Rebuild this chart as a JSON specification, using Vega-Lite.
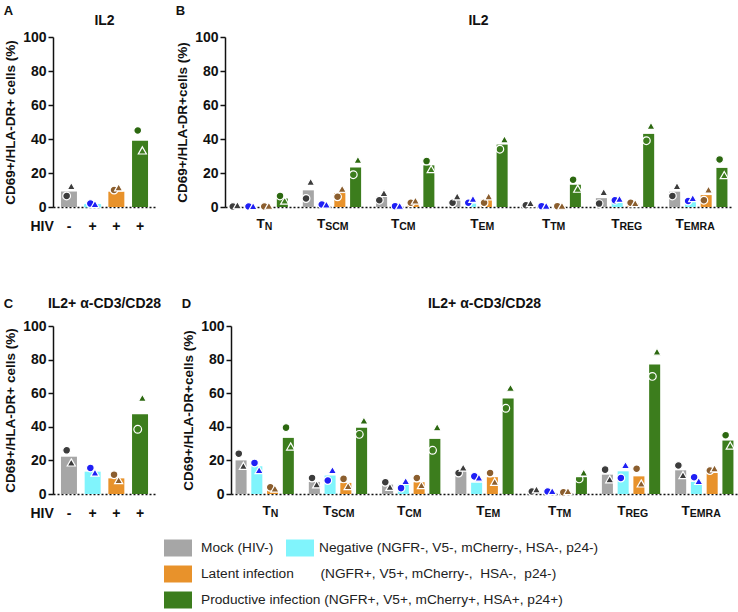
{
  "$schema": "https://vega.github.io/schema/vega-lite/v6.json",
  "padding": {"left": 3, "top": 5, "right": 0, "bottom": 0},
  "datasets": {
    "A": [
      {"group": "Mock", "bar": 9.1, "d1": 6.5, "d2": 12},
      {"group": "Negative", "bar": 1.5, "d1": 2, "d2": 1.5},
      {"group": "Latent", "bar": 9, "d1": 10, "d2": 11.3},
      {"group": "Productive", "bar": 39, "d1": 45, "d2": 33}
    ],
    "C": [
      {"group": "Mock", "bar": 22.2, "d1": 26, "d2": 18.5},
      {"group": "Negative", "bar": 13.3, "d1": 15.5, "d2": 12.5},
      {"group": "Latent", "bar": 9.3, "d1": 11.5, "d2": 8},
      {"group": "Productive", "bar": 47.5, "d1": 38.5, "d2": 57}
    ],
    "B": [
      {"cell": "TN", "group": "Mock", "bar": 0.5, "d1": 0.3, "d2": 0.8},
      {"cell": "TN", "group": "Negative", "bar": 0.3, "d1": 0.3, "d2": 0.3},
      {"cell": "TN", "group": "Latent", "bar": 0.4, "d1": 0.3, "d2": 0.5},
      {"cell": "TN", "group": "Productive", "bar": 5, "d1": 6.5, "d2": 3.5},
      {"cell": "TSCM", "group": "Mock", "bar": 9.8, "d1": 5, "d2": 14.5},
      {"cell": "TSCM", "group": "Negative", "bar": 1.5, "d1": 1.5, "d2": 1.2},
      {"cell": "TSCM", "group": "Latent", "bar": 8.2, "d1": 6, "d2": 10.5},
      {"cell": "TSCM", "group": "Productive", "bar": 23.3, "d1": 19, "d2": 27.5},
      {"cell": "TCM", "group": "Mock", "bar": 6, "d1": 4, "d2": 8},
      {"cell": "TCM", "group": "Negative", "bar": 0.5, "d1": 0.5, "d2": 0.5},
      {"cell": "TCM", "group": "Latent", "bar": 2.8, "d1": 2.5, "d2": 3.5},
      {"cell": "TCM", "group": "Productive", "bar": 24.5, "d1": 27, "d2": 22},
      {"cell": "TEM", "group": "Mock", "bar": 4, "d1": 2.5, "d2": 6},
      {"cell": "TEM", "group": "Negative", "bar": 2, "d1": 2.5, "d2": 4.5},
      {"cell": "TEM", "group": "Latent", "bar": 4.4, "d1": 2.5, "d2": 6},
      {"cell": "TEM", "group": "Productive", "bar": 36.7, "d1": 34, "d2": 39.5},
      {"cell": "TTM", "group": "Mock", "bar": 1, "d1": 1, "d2": 2},
      {"cell": "TTM", "group": "Negative", "bar": 0.5, "d1": 0.5, "d2": 0.5},
      {"cell": "TTM", "group": "Latent", "bar": 0.5, "d1": 0.5, "d2": 0.5},
      {"cell": "TTM", "group": "Productive", "bar": 13.1, "d1": 16, "d2": 10.5},
      {"cell": "TREG", "group": "Mock", "bar": 5.2, "d1": 2, "d2": 8.5},
      {"cell": "TREG", "group": "Negative", "bar": 3, "d1": 4, "d2": 4.5},
      {"cell": "TREG", "group": "Latent", "bar": 2, "d1": 2.5, "d2": 2},
      {"cell": "TREG", "group": "Productive", "bar": 43, "d1": 39, "d2": 47.5},
      {"cell": "TEMRA", "group": "Mock", "bar": 9, "d1": 6.5, "d2": 12},
      {"cell": "TEMRA", "group": "Negative", "bar": 4, "d1": 3.5, "d2": 5},
      {"cell": "TEMRA", "group": "Latent", "bar": 7, "d1": 4, "d2": 10},
      {"cell": "TEMRA", "group": "Productive", "bar": 23, "d1": 28, "d2": 18.5}
    ],
    "D": [
      {"cell": "TN", "group": "Mock", "bar": 20, "d1": 24, "d2": 16.5},
      {"cell": "TN", "group": "Negative", "bar": 16.5, "d1": 18.5, "d2": 14},
      {"cell": "TN", "group": "Latent", "bar": 2.2, "d1": 4, "d2": 3},
      {"cell": "TN", "group": "Productive", "bar": 33.4, "d1": 39.5, "d2": 28},
      {"cell": "TSCM", "group": "Mock", "bar": 7.2, "d1": 9.5, "d2": 5.5},
      {"cell": "TSCM", "group": "Negative", "bar": 11, "d1": 8, "d2": 14},
      {"cell": "TSCM", "group": "Latent", "bar": 6.6, "d1": 9, "d2": 4.5},
      {"cell": "TSCM", "group": "Productive", "bar": 39.4, "d1": 35.5, "d2": 43.5},
      {"cell": "TCM", "group": "Mock", "bar": 5.6, "d1": 7, "d2": 4},
      {"cell": "TCM", "group": "Negative", "bar": 5.6, "d1": 3.5, "d2": 7.5},
      {"cell": "TCM", "group": "Latent", "bar": 7, "d1": 9.5, "d2": 5},
      {"cell": "TCM", "group": "Productive", "bar": 32.8, "d1": 26, "d2": 39.5},
      {"cell": "TEM", "group": "Mock", "bar": 14, "d1": 12.5, "d2": 15.5},
      {"cell": "TEM", "group": "Negative", "bar": 6.7, "d1": 10.5, "d2": 9.5},
      {"cell": "TEM", "group": "Latent", "bar": 10, "d1": 12.5, "d2": 7},
      {"cell": "TEM", "group": "Productive", "bar": 56.9, "d1": 51, "d2": 63},
      {"cell": "TTM", "group": "Mock", "bar": 1.5, "d1": 1.5, "d2": 2.5},
      {"cell": "TTM", "group": "Negative", "bar": 1, "d1": 1.5, "d2": 1.5},
      {"cell": "TTM", "group": "Latent", "bar": 1, "d1": 1, "d2": 1.5},
      {"cell": "TTM", "group": "Productive", "bar": 10, "d1": 9, "d2": 12.5},
      {"cell": "TREG", "group": "Mock", "bar": 11.5, "d1": 14.5, "d2": 8.5},
      {"cell": "TREG", "group": "Negative", "bar": 13.5, "d1": 9.5, "d2": 17},
      {"cell": "TREG", "group": "Latent", "bar": 10.5, "d1": 15, "d2": 6},
      {"cell": "TREG", "group": "Productive", "bar": 77.1, "d1": 70, "d2": 84.5},
      {"cell": "TEMRA", "group": "Mock", "bar": 14.1, "d1": 17, "d2": 11},
      {"cell": "TEMRA", "group": "Negative", "bar": 7.2, "d1": 10, "d2": 7.5},
      {"cell": "TEMRA", "group": "Latent", "bar": 12.5, "d1": 14, "d2": 15},
      {"cell": "TEMRA", "group": "Productive", "bar": 31.8, "d1": 35, "d2": 28.5}
    ]
  },
  "vconcat": [
    {
      "hconcat": [
        {
          "title": {"text": "A", "anchor": "start", "frame": "bounds", "fontSize": 13, "offset": -4},
          "vconcat": [
            {
              "width": 103, "height": 170,
              "title": {"text": "IL2", "anchor": "middle", "frame": "group", "fontSize": 14, "offset": 2},
              "data": {"name": "A"},
              "encoding": {
                "x": {"field": "group", "type": "nominal", "sort": ["Mock", "Negative", "Latent", "Productive"],
                  "scale": {"paddingInner": 0.325, "paddingOuter": 0.336},
                  "axis": {"title": "HIV", "labelExpr": "datum.value === 'Mock' ? '-' : '+'", "labelAngle": 0, "ticks": false, "tickSize": 0, "domainDash": [2, 2], "domainWidth": 1.5, "labelFontSize": 14, "labelBaseline": "alphabetic", "labelPadding": 23, "titleX": -23, "titleY": 23, "titleAlign": "left", "titleBaseline": "alphabetic", "titleFontSize": 14}}
              },
              "layer": [
                {
                  "mark": {"type": "bar"},
                  "encoding": {
                    "y": {"field": "bar", "type": "quantitative", "scale": {"domain": [0, 100], "nice": false},
                      "axis": {"title": "CD69+/HLA-DR+ cells (%)", "values": [0, 20, 40, 60, 80, 100], "labelOverlap": false, "labelFontSize": 14, "titleFontSize": 13.5, "tickSize": 5, "tickWidth": 1.5, "domainWidth": 1.5, "labelPadding": 2, "titlePadding": 5}},
                    "fill": {"field": "group", "type": "nominal",
                      "scale": {"domain": ["Mock", "Negative", "Latent", "Productive"], "range": ["#a6a6a6", "#80f4fc", "#e8922b", "#3c7d1d"]},
                      "legend": {"orient": "none", "legendX": 111, "legendY": 497, "title": null, "values": ["Mock", "Latent", "Productive"],
                        "labelExpr": "datum.value === 'Mock' ? 'Mock (HIV-)' : datum.value === 'Latent' ? 'Latent infection\u00a0\u00a0\u00a0\u00a0\u00a0\u00a0\u00a0(NGFR+, V5+, mCherry-,\u00a0\u00a0HSA-,\u00a0\u00a0p24-)' : 'Productive infection (NGFR+, V5+, mCherry+, HSA+, p24+)'",
                        "symbolType": "M-1,-0.607H1V0.607H-1Z", "symbolSize": 784, "symbolStrokeWidth": 0, "labelFontSize": 13.7, "labelFont": "Liberation Sans", "labelFontWeight": "normal", "labelColor": "#222", "labelOffset": 9, "rowPadding": 3, "labelLimit": 600}},
                    "stroke": {"field": "group", "type": "nominal",
                      "scale": {"domain": ["Negative"], "range": ["#80f4fc"]},
                      "legend": {"orient": "none", "legendX": 233, "legendY": 497, "title": null,
                        "labelExpr": "'Negative (NGFR-, V5-, mCherry-, HSA-, p24-)'",
                        "symbolType": "M-1,-0.607H1V0.607H-1Z", "symbolSize": 784, "symbolFillColor": "#80f4fc", "symbolStrokeWidth": 0, "labelFontSize": 13.7, "labelFont": "Liberation Sans", "labelFontWeight": "normal", "labelColor": "#222", "labelOffset": 5, "labelLimit": 600}}
                  }
                },
                {
                  "mark": {"type": "point", "shape": "M-1.6,0A1,1,0,1,1,0.4,0A1,1,0,1,1,-1.6,0Z", "filled": true, "size": 60, "stroke": "white", "strokeWidth": 1.2, "opacity": 1},
                  "encoding": {
                    "y": {"field": "d1", "type": "quantitative", "scale": {"domain": [0, 100], "nice": false},
                      "axis": {"title": "CD69+/HLA-DR+ cells (%)", "values": [0, 20, 40, 60, 80, 100], "labelOverlap": false, "labelFontSize": 14, "titleFontSize": 13.5, "tickSize": 5, "tickWidth": 1.5, "domainWidth": 1.5, "labelPadding": 2, "titlePadding": 5}},
                    "fill": {"condition": [
                      {"test": "datum.group === 'Productive' && datum.d1 < datum.bar", "value": "transparent"},
                      {"test": "datum.group === 'Mock'", "value": "#3c3c3c"},
                      {"test": "datum.group === 'Negative'", "value": "#1f1ff5"},
                      {"test": "datum.group === 'Latent'", "value": "#8b5e2e"}], "value": "#2c6810"}
                  }
                },
                {
                  "mark": {"type": "point", "shape": "M0.6,-1.05L1.65,0.8L-0.45,0.8Z", "filled": true, "size": 60, "stroke": "white", "strokeWidth": 1.2, "opacity": 1},
                  "encoding": {
                    "y": {"field": "d2", "type": "quantitative", "scale": {"domain": [0, 100], "nice": false},
                      "axis": {"title": "CD69+/HLA-DR+ cells (%)", "values": [0, 20, 40, 60, 80, 100], "labelOverlap": false, "labelFontSize": 14, "titleFontSize": 13.5, "tickSize": 5, "tickWidth": 1.5, "domainWidth": 1.5, "labelPadding": 2, "titlePadding": 5}},
                    "fill": {"condition": [
                      {"test": "datum.group === 'Productive' && datum.d2 < datum.bar", "value": "transparent"},
                      {"test": "datum.group === 'Mock'", "value": "#3c3c3c"},
                      {"test": "datum.group === 'Negative'", "value": "#1f1ff5"},
                      {"test": "datum.group === 'Latent'", "value": "#8b5e2e"}], "value": "#2c6810"}
                  }
                }
              ]
            }
          ]
        },
        {
          "title": {"text": "B", "anchor": "start", "frame": "bounds", "fontSize": 13, "offset": -4},
          "vconcat": [
            {
              "width": 507, "height": 170,
              "title": {"text": "IL2", "anchor": "middle", "frame": "group", "fontSize": 14, "offset": 2},
              "data": {"name": "B"},
              "layer": [
                {
                  "mark": {"type": "bar"},
                  "encoding": {
                    "x": {"field": "cell", "type": "nominal", "sort": ["TN", "TSCM", "TCM", "TEM", "TTM", "TREG", "TEMRA"],
                      "scale": {"paddingInner": 0.14, "paddingOuter": 0.03},
                      "axis": {"title": null, "orient": "bottom", "labelExpr": "'T'", "labelAngle": 0, "ticks": false, "tickSize": 0, "domainDash": [2, 2], "domainWidth": 1.5, "labelFontSize": 13.5, "labelAlign": "right", "labelBaseline": "alphabetic", "labelPadding": 20,
                        "labelOffset": {"condition": [
                          {"test": "datum.value === 'TN'", "value": 6},
                          {"test": "datum.value === 'TSCM'", "value": -6.7},
                          {"test": "datum.value === 'TCM'", "value": -6},
                          {"test": "datum.value === 'TTM'", "value": -1.6},
                          {"test": "datum.value === 'TREG'", "value": -5.5},
                          {"test": "datum.value === 'TEMRA'", "value": -14.5}], "value": 0}}},
                    "xOffset": {"field": "group", "type": "nominal", "sort": ["Mock", "Negative", "Latent", "Productive"], "scale": {"paddingInner": 0.3, "paddingOuter": 0.15}},
                    "y": {"field": "bar", "type": "quantitative", "scale": {"domain": [0, 100], "nice": false},
                      "axis": {"title": "CD69+/HLA-DR+cells (%)", "values": [0, 20, 40, 60, 80, 100], "labelOverlap": false, "labelFontSize": 14, "titleFontSize": 13.5, "tickSize": 5, "tickWidth": 1.5, "domainWidth": 1.5, "labelPadding": 2, "titlePadding": 5}},
                    "fill": {"field": "group", "type": "nominal"}
                  }
                },
                {
                  "mark": {"type": "point", "shape": "M-1.6,0A1,1,0,1,1,0.4,0A1,1,0,1,1,-1.6,0Z", "filled": true, "size": 60, "stroke": "white", "strokeWidth": 1.2, "opacity": 1},
                  "encoding": {
                    "x": {"field": "cell", "type": "nominal", "sort": ["TN", "TSCM", "TCM", "TEM", "TTM", "TREG", "TEMRA"],
                      "axis": {"title": null, "orient": "bottom", "labelExpr": "slice(datum.value, 1)", "labelAngle": 0, "ticks": false, "tickSize": 0, "domain": false, "labelFontSize": 10.5, "labelAlign": "left", "labelBaseline": "alphabetic", "labelPadding": 22,
                        "labelOffset": {"condition": [
                          {"test": "datum.value === 'TN'", "value": 6},
                          {"test": "datum.value === 'TSCM'", "value": -6.7},
                          {"test": "datum.value === 'TCM'", "value": -6},
                          {"test": "datum.value === 'TTM'", "value": -1.6},
                          {"test": "datum.value === 'TREG'", "value": -5.5},
                          {"test": "datum.value === 'TEMRA'", "value": -14.5}], "value": 0}}},
                    "xOffset": {"field": "group", "type": "nominal", "sort": ["Mock", "Negative", "Latent", "Productive"]},
                    "y": {"field": "d1", "type": "quantitative", "scale": {"domain": [0, 100], "nice": false},
                      "axis": {"title": "CD69+/HLA-DR+cells (%)", "values": [0, 20, 40, 60, 80, 100], "labelOverlap": false, "labelFontSize": 14, "titleFontSize": 13.5, "tickSize": 5, "tickWidth": 1.5, "domainWidth": 1.5, "labelPadding": 2, "titlePadding": 5}},
                    "fill": {"condition": [
                      {"test": "datum.group === 'Productive' && datum.d1 < datum.bar", "value": "transparent"},
                      {"test": "datum.group === 'Mock'", "value": "#3c3c3c"},
                      {"test": "datum.group === 'Negative'", "value": "#1f1ff5"},
                      {"test": "datum.group === 'Latent'", "value": "#8b5e2e"}], "value": "#2c6810"}
                  }
                },
                {
                  "mark": {"type": "point", "shape": "M0.6,-1.05L1.65,0.8L-0.45,0.8Z", "filled": true, "size": 60, "stroke": "white", "strokeWidth": 1.2, "opacity": 1},
                  "encoding": {
                    "x": {"field": "cell", "type": "nominal", "sort": ["TN", "TSCM", "TCM", "TEM", "TTM", "TREG", "TEMRA"], "axis": null},
                    "xOffset": {"field": "group", "type": "nominal", "sort": ["Mock", "Negative", "Latent", "Productive"]},
                    "y": {"field": "d2", "type": "quantitative", "scale": {"domain": [0, 100], "nice": false},
                      "axis": {"title": "CD69+/HLA-DR+cells (%)", "values": [0, 20, 40, 60, 80, 100], "labelOverlap": false, "labelFontSize": 14, "titleFontSize": 13.5, "tickSize": 5, "tickWidth": 1.5, "domainWidth": 1.5, "labelPadding": 2, "titlePadding": 5}},
                    "fill": {"condition": [
                      {"test": "datum.group === 'Productive' && datum.d2 < datum.bar", "value": "transparent"},
                      {"test": "datum.group === 'Mock'", "value": "#3c3c3c"},
                      {"test": "datum.group === 'Negative'", "value": "#1f1ff5"},
                      {"test": "datum.group === 'Latent'", "value": "#8b5e2e"}], "value": "#2c6810"}
                  }
                }
              ],
              "resolve": {"axis": {"x": "independent"}}
            }
          ]
        }
      ],
      "spacing": 19
    },
    {
      "hconcat": [
        {
          "title": {"text": "C", "anchor": "start", "frame": "bounds", "fontSize": 13, "offset": -14},
          "vconcat": [
            {
              "width": 103, "height": 168,
              "title": {"text": "IL2+ α-CD3/CD28", "anchor": "middle", "frame": "group", "fontSize": 14, "offset": 8},
              "data": {"name": "C"},
              "encoding": {
                "x": {"field": "group", "type": "nominal", "sort": ["Mock", "Negative", "Latent", "Productive"],
                  "scale": {"paddingInner": 0.325, "paddingOuter": 0.336},
                  "axis": {"title": "HIV", "labelExpr": "datum.value === 'Mock' ? '-' : '+'", "labelAngle": 0, "ticks": false, "tickSize": 0, "domainDash": [2, 2], "domainWidth": 1.5, "labelFontSize": 14, "labelBaseline": "alphabetic", "labelPadding": 23, "titleX": -23, "titleY": 23, "titleAlign": "left", "titleBaseline": "alphabetic", "titleFontSize": 14}}
              },
              "layer": [
                {
                  "mark": {"type": "bar"},
                  "encoding": {
                    "y": {"field": "bar", "type": "quantitative", "scale": {"domain": [0, 100], "nice": false},
                      "axis": {"title": "CD69+/HLA-DR+ cells (%)", "values": [0, 20, 40, 60, 80, 100], "labelOverlap": false, "labelFontSize": 14, "titleFontSize": 13.5, "tickSize": 5, "tickWidth": 1.5, "domainWidth": 1.5, "labelPadding": 2, "titlePadding": 5}},
                    "fill": {"field": "group", "type": "nominal"}
                  }
                },
                {
                  "mark": {"type": "point", "shape": "M-1.6,0A1,1,0,1,1,0.4,0A1,1,0,1,1,-1.6,0Z", "filled": true, "size": 60, "stroke": "white", "strokeWidth": 1.2, "opacity": 1},
                  "encoding": {
                    "y": {"field": "d1", "type": "quantitative", "scale": {"domain": [0, 100], "nice": false},
                      "axis": {"title": "CD69+/HLA-DR+ cells (%)", "values": [0, 20, 40, 60, 80, 100], "labelOverlap": false, "labelFontSize": 14, "titleFontSize": 13.5, "tickSize": 5, "tickWidth": 1.5, "domainWidth": 1.5, "labelPadding": 2, "titlePadding": 5}},
                    "fill": {"condition": [
                      {"test": "datum.group === 'Productive' && datum.d1 < datum.bar", "value": "transparent"},
                      {"test": "datum.group === 'Mock'", "value": "#3c3c3c"},
                      {"test": "datum.group === 'Negative'", "value": "#1f1ff5"},
                      {"test": "datum.group === 'Latent'", "value": "#8b5e2e"}], "value": "#2c6810"}
                  }
                },
                {
                  "mark": {"type": "point", "shape": "M0.6,-1.05L1.65,0.8L-0.45,0.8Z", "filled": true, "size": 60, "stroke": "white", "strokeWidth": 1.2, "opacity": 1},
                  "encoding": {
                    "y": {"field": "d2", "type": "quantitative", "scale": {"domain": [0, 100], "nice": false},
                      "axis": {"title": "CD69+/HLA-DR+ cells (%)", "values": [0, 20, 40, 60, 80, 100], "labelOverlap": false, "labelFontSize": 14, "titleFontSize": 13.5, "tickSize": 5, "tickWidth": 1.5, "domainWidth": 1.5, "labelPadding": 2, "titlePadding": 5}},
                    "fill": {"condition": [
                      {"test": "datum.group === 'Productive' && datum.d2 < datum.bar", "value": "transparent"},
                      {"test": "datum.group === 'Mock'", "value": "#3c3c3c"},
                      {"test": "datum.group === 'Negative'", "value": "#1f1ff5"},
                      {"test": "datum.group === 'Latent'", "value": "#8b5e2e"}], "value": "#2c6810"}
                  }
                }
              ]
            }
          ]
        },
        {
          "title": {"text": "D", "anchor": "start", "frame": "bounds", "fontSize": 13, "offset": -14},
          "vconcat": [
            {
              "width": 507, "height": 168,
              "title": {"text": "IL2+ α-CD3/CD28", "anchor": "middle", "frame": "group", "fontSize": 14, "offset": 8},
              "data": {"name": "D"},
              "layer": [
                {
                  "mark": {"type": "bar"},
                  "encoding": {
                    "x": {"field": "cell", "type": "nominal", "sort": ["TN", "TSCM", "TCM", "TEM", "TTM", "TREG", "TEMRA"],
                      "scale": {"paddingInner": 0.14, "paddingOuter": 0.03},
                      "axis": {"title": null, "orient": "bottom", "labelExpr": "'T'", "labelAngle": 0, "ticks": false, "tickSize": 0, "domainDash": [2, 2], "domainWidth": 1.5, "labelFontSize": 13.5, "labelAlign": "right", "labelBaseline": "alphabetic", "labelPadding": 20,
                        "labelOffset": {"condition": [
                          {"test": "datum.value === 'TN'", "value": 6},
                          {"test": "datum.value === 'TSCM'", "value": -6.7},
                          {"test": "datum.value === 'TCM'", "value": -6},
                          {"test": "datum.value === 'TTM'", "value": -1.6},
                          {"test": "datum.value === 'TREG'", "value": -5.5},
                          {"test": "datum.value === 'TEMRA'", "value": -14.5}], "value": 0}}},
                    "xOffset": {"field": "group", "type": "nominal", "sort": ["Mock", "Negative", "Latent", "Productive"], "scale": {"paddingInner": 0.3, "paddingOuter": 0.15}},
                    "y": {"field": "bar", "type": "quantitative", "scale": {"domain": [0, 100], "nice": false},
                      "axis": {"title": "CD69+/HLA-DR+cells (%)", "values": [0, 20, 40, 60, 80, 100], "labelOverlap": false, "labelFontSize": 14, "titleFontSize": 13.5, "tickSize": 5, "tickWidth": 1.5, "domainWidth": 1.5, "labelPadding": 2, "titlePadding": 5}},
                    "fill": {"field": "group", "type": "nominal"}
                  }
                },
                {
                  "mark": {"type": "point", "shape": "M-1.6,0A1,1,0,1,1,0.4,0A1,1,0,1,1,-1.6,0Z", "filled": true, "size": 60, "stroke": "white", "strokeWidth": 1.2, "opacity": 1},
                  "encoding": {
                    "x": {"field": "cell", "type": "nominal", "sort": ["TN", "TSCM", "TCM", "TEM", "TTM", "TREG", "TEMRA"],
                      "axis": {"title": null, "orient": "bottom", "labelExpr": "slice(datum.value, 1)", "labelAngle": 0, "ticks": false, "tickSize": 0, "domain": false, "labelFontSize": 10.5, "labelAlign": "left", "labelBaseline": "alphabetic", "labelPadding": 22,
                        "labelOffset": {"condition": [
                          {"test": "datum.value === 'TN'", "value": 6},
                          {"test": "datum.value === 'TSCM'", "value": -6.7},
                          {"test": "datum.value === 'TCM'", "value": -6},
                          {"test": "datum.value === 'TTM'", "value": -1.6},
                          {"test": "datum.value === 'TREG'", "value": -5.5},
                          {"test": "datum.value === 'TEMRA'", "value": -14.5}], "value": 0}}},
                    "xOffset": {"field": "group", "type": "nominal", "sort": ["Mock", "Negative", "Latent", "Productive"]},
                    "y": {"field": "d1", "type": "quantitative", "scale": {"domain": [0, 100], "nice": false},
                      "axis": {"title": "CD69+/HLA-DR+cells (%)", "values": [0, 20, 40, 60, 80, 100], "labelOverlap": false, "labelFontSize": 14, "titleFontSize": 13.5, "tickSize": 5, "tickWidth": 1.5, "domainWidth": 1.5, "labelPadding": 2, "titlePadding": 5}},
                    "fill": {"condition": [
                      {"test": "datum.group === 'Productive' && datum.d1 < datum.bar", "value": "transparent"},
                      {"test": "datum.group === 'Mock'", "value": "#3c3c3c"},
                      {"test": "datum.group === 'Negative'", "value": "#1f1ff5"},
                      {"test": "datum.group === 'Latent'", "value": "#8b5e2e"}], "value": "#2c6810"}
                  }
                },
                {
                  "mark": {"type": "point", "shape": "M0.6,-1.05L1.65,0.8L-0.45,0.8Z", "filled": true, "size": 60, "stroke": "white", "strokeWidth": 1.2, "opacity": 1},
                  "encoding": {
                    "x": {"field": "cell", "type": "nominal", "sort": ["TN", "TSCM", "TCM", "TEM", "TTM", "TREG", "TEMRA"], "axis": null},
                    "xOffset": {"field": "group", "type": "nominal", "sort": ["Mock", "Negative", "Latent", "Productive"]},
                    "y": {"field": "d2", "type": "quantitative", "scale": {"domain": [0, 100], "nice": false},
                      "axis": {"title": "CD69+/HLA-DR+cells (%)", "values": [0, 20, 40, 60, 80, 100], "labelOverlap": false, "labelFontSize": 14, "titleFontSize": 13.5, "tickSize": 5, "tickWidth": 1.5, "domainWidth": 1.5, "labelPadding": 2, "titlePadding": 5}},
                    "fill": {"condition": [
                      {"test": "datum.group === 'Productive' && datum.d2 < datum.bar", "value": "transparent"},
                      {"test": "datum.group === 'Mock'", "value": "#3c3c3c"},
                      {"test": "datum.group === 'Negative'", "value": "#1f1ff5"},
                      {"test": "datum.group === 'Latent'", "value": "#8b5e2e"}], "value": "#2c6810"}
                  }
                }
              ],
              "resolve": {"axis": {"x": "independent"}}
            }
          ]
        }
      ],
      "spacing": 19
    }
  ],
  "spacing": 64,
  "config": {
    "font": "Liberation Sans",
    "view": {"stroke": null},
    "axis": {"labelFont": "Liberation Sans", "titleFont": "Liberation Sans", "labelFontWeight": "bold", "titleFontWeight": "bold", "labelColor": "#111", "titleColor": "#111", "domainColor": "#111", "tickColor": "#111", "grid": false},
    "title": {"font": "Liberation Sans", "fontWeight": "bold", "color": "#111"}
  }
}
